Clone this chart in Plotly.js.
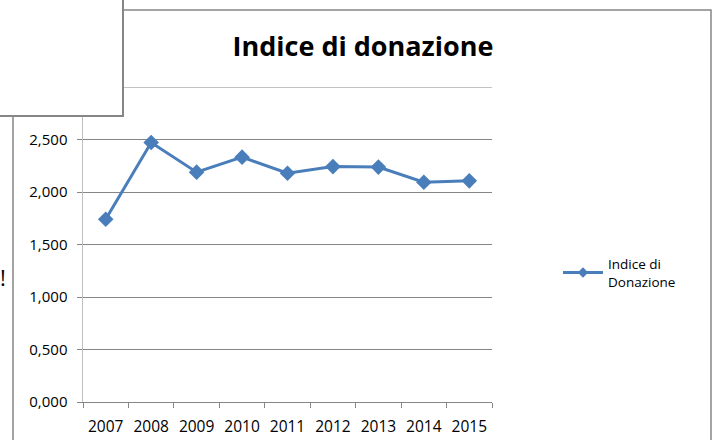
<!DOCTYPE html>
<html>
<head>
<meta charset="utf-8">
<script src="https://cdn.plot.ly/plotly-3.0.1.min.js"></script>
<style>html,body{margin:0;padding:0;background:#fff;}#chart{width:718px;height:440px;}</style>
</head>
<body>
<div id="chart"></div>
<script>
const years = ["2007","2008","2009","2010","2011","2012","2013","2014","2015"];
const indice = [1.740, 2.471, 2.189, 2.332, 2.179, 2.242, 2.237, 2.093, 2.106];
const yTicks = [0, 0.5, 1, 1.5, 2, 2.5, 3];
const seriesName = "Indice di<br>Donazione";
const chartTitle = "Indice di donazione";

const W = 718, H = 440;
const M = {l: 83, r: 226, t: 87, b: 38};
const pw = W - M.l - M.r, ph = H - M.t - M.b;
const px = p => (p - M.l) / pw;
const py = q => (H - M.b - q) / ph;

const FONT = "Open Sans, Liberation Sans, sans-serif";
const GRID = "#868686";
const BLUE = "#4a7ebb";

const trace = {
  x: years, y: indice, name: seriesName, type: "scatter", mode: "lines+markers",
  line: {color: BLUE, width: 3},
  marker: {symbol: "diamond", size: 12, color: BLUE},
  showlegend: false
};
const legendTrace = {
  x: [null], y: [null], name: seriesName, type: "scatter", mode: "lines+markers",
  line: {color: BLUE, width: 3},
  marker: {symbol: "diamond", size: 8, color: BLUE},
  showlegend: true
};

const yMax = yTicks[yTicks.length - 1];

const layout = {
  width: W, height: H,
  margin: M,
  paper_bgcolor: "#fff", plot_bgcolor: "#fff",
  separators: ",.",
  font: {family: FONT, size: 15, color: "#000"},
  title: {text: "<b>" + chartTitle + "</b>", font: {family: FONT, size: 27, color: "#000"},
          xref: "paper", x: px(363), xanchor: "center", yref: "container", y: 1 - 47/H, yanchor: "middle"},
  showlegend: true,
  legend: {x: px(558), xanchor: "left", y: py(273), yanchor: "middle", itemwidth: 40,
           font: {family: FONT, size: 13.5, color: "#000"}, bgcolor: "rgba(0,0,0,0)"},
  xaxis: {type: "category", range: [-0.5, 8.5], tickson: "boundaries", ticks: "outside", ticklen: 5,
          tickcolor: GRID, showline: true, linecolor: GRID, linewidth: 1, showgrid: false, zeroline: false,
          ticklabelstandoff: 10,
          tickfont: {family: FONT, size: 15.5, color: "#000"}, fixedrange: true},
  yaxis: {range: [0, yMax], tickvals: yTicks, tickformat: ".3f", ticks: "outside", ticklen: 5, tickcolor: GRID,
          showline: true, linecolor: "#bfbfbf", linewidth: 1.5, showgrid: true, gridcolor: GRID, gridwidth: 1,
          zeroline: false, ticklabelstandoff: 6,
          tickfont: {family: FONT, size: 15, color: "#000"}, fixedrange: true},
  shapes: [
    {type: "line", xref: "paper", yref: "y", x0: 0, x1: 1, y0: yMax, y1: yMax,
     line: {color: GRID, width: 1}, layer: "below"},
    {type: "rect", xref: "paper", yref: "paper", x0: px(13), x1: px(711), y0: py(450), y1: py(10),
     line: {color: GRID, width: 1.5}, fillcolor: "rgba(0,0,0,0)", layer: "above"},
    {type: "rect", xref: "paper", yref: "paper", x0: px(-5), x1: px(123), y0: py(116), y1: py(-5),
     line: {color: GRID, width: 2}, fillcolor: "#fff", layer: "above"}
  ],
  annotations: [
    {text: "!", xref: "paper", yref: "paper", x: px(-2), y: py(277), xanchor: "left", yanchor: "middle",
     showarrow: false, font: {family: FONT, size: 22, color: "#000"}}
  ]
};

Plotly.newPlot("chart", [trace, legendTrace], layout, {displayModeBar: false, staticPlot: true});
</script>
</body>
</html>
